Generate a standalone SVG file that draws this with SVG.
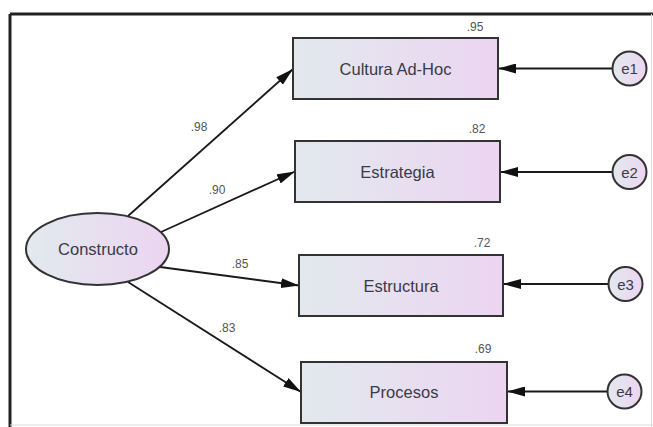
<svg xmlns="http://www.w3.org/2000/svg" width="653" height="427" viewBox="0 0 653 427">
<defs>
<linearGradient id="g" x1="0" y1="0" x2="1" y2="0">
<stop offset="0" stop-color="#e2e9ee"/>
<stop offset="1" stop-color="#ecd5f1"/>
</linearGradient>
<marker id="ah" viewBox="0 0 18 10" refX="18" refY="5" markerWidth="18" markerHeight="10" markerUnits="userSpaceOnUse" orient="auto">
<path d="M0,0 L18,5 L0,10 Z" fill="#111"/>
</marker>
<style>
.box{fill:url(#g);stroke:#333;stroke-width:2}
.lbl{font-family:"Liberation Sans",Arial,sans-serif;font-size:16.5px;fill:#3a3a48;text-anchor:middle}
.num{font-family:"Liberation Sans",Arial,sans-serif;font-size:12px;fill:#555;text-anchor:middle}
.err{font-family:"Liberation Sans",Arial,sans-serif;font-size:15px;fill:#3a3a48;text-anchor:middle}
.c{stroke:#1a1a1a;stroke-width:1.8;fill:none;marker-end:url(#ah)}
</style>
</defs>
<rect width="653" height="427" fill="#fff"/>
<g id="frame">
<line x1="10" y1="14" x2="653" y2="14" stroke="#222" stroke-width="3"/>
<line x1="10" y1="14" x2="10" y2="427" stroke="#222" stroke-width="3"/>
<line x1="651.5" y1="14" x2="651.5" y2="427" stroke="#ddd" stroke-width="1"/>
<line x1="10" y1="425" x2="653" y2="425" stroke="#ddd" stroke-width="1"/>
</g>
<g id="connectors">
<line class="c" x1="128" y1="216" x2="293" y2="69"/>
<line class="c" x1="161" y1="232" x2="295" y2="171.5"/>
<line class="c" x1="160" y1="267" x2="299" y2="285.5"/>
<line class="c" x1="128" y1="282" x2="301" y2="392"/>
<line class="c" x1="612" y1="68.5" x2="498" y2="68.5"/>
<line class="c" x1="612" y1="172" x2="500" y2="172"/>
<line class="c" x1="608" y1="284" x2="503" y2="284"/>
<line class="c" x1="607" y1="391.5" x2="507" y2="391.5"/>
<text class="num" x="199" y="131">.98</text>
<text class="num" x="217" y="194">.90</text>
<text class="num" x="240" y="268">.85</text>
<text class="num" x="227" y="332">.83</text>
</g>
<g id="constructo">
<ellipse cx="97.5" cy="249" rx="71.5" ry="36" class="box"/>
<text class="lbl" x="98" y="255">Constructo</text>
</g>
<g id="cultura">
<rect x="293" y="38" width="205" height="61" class="box"/>
<text class="lbl" x="395.5" y="75">Cultura Ad-Hoc</text>
<text class="num" x="475" y="31">.95</text>
</g>
<g id="estrategia">
<rect x="295" y="141" width="205" height="61" class="box"/>
<text class="lbl" x="397.5" y="178">Estrategia</text>
<text class="num" x="477" y="133">.82</text>
</g>
<g id="estructura">
<rect x="299" y="255" width="204" height="61" class="box"/>
<text class="lbl" x="401" y="291.5">Estructura</text>
<text class="num" x="482" y="247">.72</text>
</g>
<g id="procesos">
<rect x="301" y="362" width="206" height="61" class="box"/>
<text class="lbl" x="404" y="398">Procesos</text>
<text class="num" x="483" y="353">.69</text>
</g>
<g id="e1">
<circle cx="629.5" cy="68.5" r="17" class="box"/>
<text class="err" x="629.5" y="74">e1</text>
</g>
<g id="e2">
<circle cx="629.5" cy="172" r="17" class="box"/>
<text class="err" x="629.5" y="177.5">e2</text>
</g>
<g id="e3">
<circle cx="625.5" cy="284" r="17" class="box"/>
<text class="err" x="625.5" y="289.5">e3</text>
</g>
<g id="e4">
<circle cx="624.5" cy="391.5" r="17" class="box"/>
<text class="err" x="624.5" y="397">e4</text>
</g>
</svg>
